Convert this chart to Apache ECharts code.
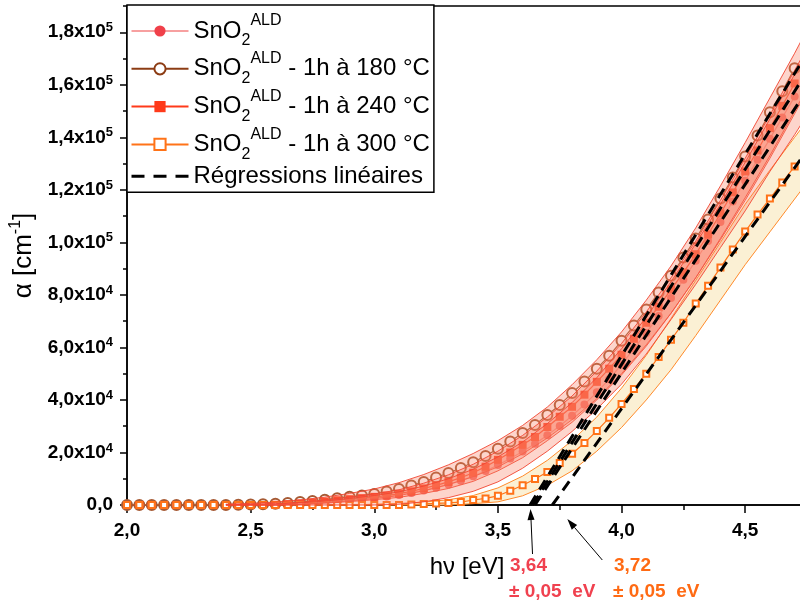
<!DOCTYPE html>
<html><head><meta charset="utf-8">
<script src="https://cdn.jsdelivr.net/npm/echarts@6/dist/echarts.min.js"></script>
<style>html,body{margin:0;padding:0;background:#fff}#c{width:800px;height:605px}</style>
</head><body><div id="c"></div>
<script>
// ---------- data ----------
const energies = [2.00,2.05,2.10,2.15,2.20,2.25,2.30,2.35,2.40,2.45,2.50,2.55,2.60,2.65,2.70,2.75,2.80,2.85,2.90,2.95,
  3.00,3.05,3.10,3.15,3.20,3.25,3.30,3.35,3.40,3.45,3.50,3.55,3.60,3.65,3.70,3.75,3.80,3.85,3.90,3.95,
  4.00,4.05,4.10,4.15,4.20,4.25,4.30,4.35,4.40,4.45,4.50,4.55,4.60,4.65,4.70];
const alphaSnO2 = [0,0,0,0,0,0,0,0,0,0,50,100,150,200,400,700,1000,1400,1800,2200,
  2700,3200,3800,4600,5500,6600,7800,9200,10900,12900,15200,17700,20400,23300,26600,30100,34000,38300,42900,47900,
  53500,59500,65500,72000,78800,85800,93000,100500,107800,115600,123500,131500,139500,147500,155500];
const alpha180 = [0,0,0,0,0,0,0,0,0,100,200,300,500,800,1100,1500,2000,2600,3100,3600,
  4200,5100,6100,7400,8800,10500,12200,14100,16300,18700,21400,24200,27400,30500,34300,38100,42600,47000,51900,56800,
  62500,68300,74400,80900,87300,94200,101500,108700,116700,124700,132700,140700,149500,157500,166300];
const alpha240 = [0,0,0,0,0,0,0,0,0,0,0,0,100,300,600,900,1300,1800,2200,2600,
  3100,3600,4300,5200,6300,7500,8800,10400,12300,14600,17200,20000,22900,25900,29700,33600,37400,42000,46900,51900,
  57200,63300,69400,75500,82000,88500,95500,103000,111000,119000,127000,135000,143500,152000,160500];
const alpha300 = [0,0,0,0,0,0,0,0,0,0,0,0,0,0,0,0,0,0,0,0,
  0,0,0,200,400,600,800,1100,1900,2500,3500,5400,7500,9900,12600,16000,19500,23600,28200,33200,
  38500,44200,50000,56400,62900,69400,76700,83500,90400,97300,104100,110600,116700,122800,128900];

// uncertainty bands (upper / lower edges)
const bandEnergies = [2.4,2.5,2.6,2.7,2.8,2.9,3.0,3.1,3.2,3.3,3.4,3.5,3.6,3.7,3.8,3.9,4.0,4.1,4.2,4.3,4.4,4.5,4.6,4.7,4.8];
const band180Upper = [300,600,1100,1900,3000,4400,6100,8500,11600,15300,19600,24500,30300,37300,45800,55300,65900,78000,91000,105500,121500,138000,155000,172000,190000];
const band180Lower = [0,0,0,300,900,1600,2400,3600,5400,7800,10800,14500,19500,25500,32500,40500,50000,61000,73000,86500,101000,116000,132000,149000,166000];
const band240Upper = [200,300,500,1000,1900,3000,4200,5800,8300,11500,15500,20500,26500,33500,41500,51000,61500,73500,86500,100500,116000,132000,148500,165500,182500];
const band240Lower = [0,0,0,200,700,1300,2000,2900,4400,6300,9000,13000,18000,24500,31500,40000,49500,60500,73000,86500,101500,117000,133000,150000,167000];
const bandSnO2Upper = [100,200,400,800,1500,2500,3600,5000,7200,10000,13600,18300,24000,31000,39000,48500,59500,71500,85000,99500,114500,130500,147000,164000,181000];
const bandSnO2Lower = [0,0,0,0,0,0,0,300,1200,2800,5200,8800,14000,20500,28000,36500,46000,57500,70600,84000,98000,112000,127000,141000,156000];
const band300Upper = [0,0,0,0,0,0,300,600,1100,2000,3600,6500,11000,17000,24500,33500,44500,57000,71000,85500,100000,114500,127500,140000,152500];
const band300Lower = [0,0,0,0,0,0,0,0,0,0,500,1200,3500,7500,13000,20500,29500,40000,51500,64500,78000,91500,104000,116500,129000];

// linear regressions (tangents): [x, alpha] end points
const regSnO2 = [[3.65, 0], [4.75, 158000]];
const reg180 = [[3.63, 0], [4.75, 172000]];
const reg240 = [[3.64, 0], [4.75, 165000]];
const reg300 = [[3.72, 0], [4.75, 135000]];

const gapRed = 3.64, gapOrange = 3.72, gapError = 0.05;

const xMajorTicks = [2.0, 2.5, 3.0, 3.5, 4.0, 4.5];
const xMinorTicks = [2.25, 2.75, 3.25, 3.75, 4.25, 4.75];
const yMajorTicks = [0, 20000, 40000, 60000, 80000, 100000, 120000, 140000, 160000, 180000];
const yMinorTicks = [10000, 30000, 50000, 70000, 90000, 110000, 130000, 150000, 170000, 190000];

const names = ['SnO2ALD', 'SnO2ALD - 1h à 180 °C', 'SnO2ALD - 1h à 240 °C', 'SnO2ALD - 1h à 300 °C', 'Régressions linéaires'];

// ---------- chart ----------
const FONT = '"Liberation Sans", Arial, sans-serif';
const chart = echarts.init(document.getElementById('c'), null, {renderer: 'canvas'});

function pairs(xs, ys) { return xs.map((x, i) => [x, ys[i]]); }

function bandSeries(upper, lower, fill, stroke, z) {
  return {
    type: 'custom', z: z, silent: true, xAxisIndex: 0, yAxisIndex: 0,
    data: [[bandEnergies[0], 0]],
    renderItem: function (params, api) {
      const up = bandEnergies.map((x, i) => api.coord([x, upper[i]]));
      const lo = bandEnergies.map((x, i) => api.coord([x, lower[i]]));
      return {type: 'group', children: [
        {type: 'polygon', shape: {points: up.concat(lo.slice().reverse())}, style: {fill: fill}},
        {type: 'polyline', shape: {points: up}, style: {stroke: stroke, lineWidth: 1, fill: 'none'}},
        {type: 'polyline', shape: {points: lo}, style: {stroke: stroke, lineWidth: 1, fill: 'none'}}
      ]};
    }
  };
}

function regSeries(pts) {
  return {
    name: names[4], type: 'line', z: 5, data: pts, symbol: 'none',
    lineStyle: {color: '#000', width: 3, type: [11, 7]}, itemStyle: {color: '#000'}
  };
}

function fmtY(v) {
  if (v === 0) return '{m|0,0}';
  const e = Math.floor(Math.log10(v) + 1e-9);
  const m = (v / Math.pow(10, e)).toFixed(1).replace('.', ',');
  return '{m|' + m + 'x10}{e|' + e + '}';
}

const redFill = 'rgba(248,125,95,0.32)';
const redEdge = 'rgba(242,70,50,0.9)';

const option = {
  animation: false,
  textStyle: {fontFamily: FONT},
  grid: {left: 127, right: -7, top: 6, bottom: 100, show: true, borderColor: '#000', borderWidth: 1.5,
         backgroundColor: 'transparent', outerBoundsMode: 'none', containLabel: false},
  xAxis: [{
    type: 'value', min: 2.0, max: 4.75, interval: 0.5,
    name: 'hν [eV]', nameLocation: 'middle', nameGap: 50,
    nameTextStyle: {fontSize: 24, color: '#000', fontFamily: FONT},
    axisLine: {show: true, lineStyle: {color: '#000', width: 1.5}},
    axisTick: {show: true, length: 8, lineStyle: {color: '#000', width: 1.5}, customValues: xMajorTicks},
    axisLabel: {color: '#000', fontSize: 19, fontWeight: 'bold', fontFamily: FONT, margin: 16,
      customValues: xMajorTicks,
      formatter: v => v.toFixed(1).replace('.', ',')},
    splitLine: {show: false}
  }, {
    type: 'value', min: 2.0, max: 4.75, position: 'bottom', gridIndex: 0,
    axisLine: {show: false}, axisLabel: {show: false}, splitLine: {show: false},
    axisTick: {show: true, length: 5, lineStyle: {color: '#000', width: 1.5}, customValues: xMinorTicks}
  }],
  yAxis: [{
    type: 'value', min: 0, max: 190000, interval: 20000,
    name: '{n|α [cm}{s|-1}{n|]}', nameLocation: 'middle', nameGap: 78, nameRotate: 90,
    nameTextStyle: {color: '#000', fontFamily: FONT, rich: {
      n: {fontSize: 26, lineHeight: 32, fontFamily: FONT, color: '#000'},
      s: {fontSize: 16, lineHeight: 20, verticalAlign: 'top', fontFamily: FONT, color: '#000'}}},
    axisLine: {show: true, lineStyle: {color: '#000', width: 1.5}},
    axisTick: {show: true, length: 7, lineStyle: {color: '#000', width: 1.5}, customValues: yMajorTicks},
    axisLabel: {color: '#000', margin: 14, customValues: yMajorTicks, formatter: fmtY,
      rich: {
        m: {fontSize: 19, fontWeight: 'bold', lineHeight: 22, fontFamily: FONT, color: '#000'},
        e: {fontSize: 13, fontWeight: 'bold', lineHeight: 14, verticalAlign: 'top', fontFamily: FONT, color: '#000'}
      }},
    splitLine: {show: false}
  }, {
    type: 'value', min: 0, max: 190000, position: 'left', gridIndex: 0,
    axisLine: {show: false}, axisLabel: {show: false}, splitLine: {show: false},
    axisTick: {show: true, length: 4, lineStyle: {color: '#000', width: 1.5}, customValues: yMinorTicks}
  }],
  legend: {
    data: [
      {name: names[0], itemStyle: {color: '#f0404a'}},
      {name: names[1], itemStyle: {color: '#8c3c14'}, lineStyle: {color: '#8c3c14'}},
      names[2], names[3],
      {name: names[4], itemStyle: {color: 'rgba(0,0,0,0)', borderWidth: 0},
       lineStyle: {color: '#000', width: 3, type: [13, 9]}}],
    orient: 'vertical', left: 127, top: 5, padding: [8, 4, 4, 3], itemGap: 1.8,
    itemWidth: 57, itemHeight: 14, selectedMode: false,
    backgroundColor: '#fff', borderColor: '#000', borderWidth: 1.5,
    formatter: function (name) {
      if (name.indexOf('SnO2ALD') === 0) {
        const rest = name.slice(7);
        return '{n|SnO}{sub|2}{sup|ALD}' + (rest ? '{n|' + rest + '}' : '');
      }
      return '{n|' + name + '}';
    },
    textStyle: {color: '#000', fontSize: 24, fontFamily: FONT, rich: {
      n: {fontSize: 24, lineHeight: 36, fontFamily: FONT, color: '#000'},
      sub: {fontSize: 16, lineHeight: 16, verticalAlign: 'bottom', fontFamily: FONT, color: '#000'},
      sup: {fontSize: 16, lineHeight: 26, verticalAlign: 'top', fontFamily: FONT, color: '#000'}
    }}
  },
  series: [
    bandSeries(band300Upper, band300Lower, 'rgba(251,239,210,0.95)', '#ff8a2a', 1),
    {name: names[0], type: 'line', z: 2, data: pairs(energies, alphaSnO2), symbol: 'circle', symbolSize: 8,
      itemStyle: {color: '#f56a6a'}, lineStyle: {color: '#f7a0a0', width: 1.2}},
    {name: names[1], type: 'line', z: 2, data: pairs(energies, alpha180), symbol: 'emptyCircle', symbolSize: 10,
      itemStyle: {color: '#a65a34', borderWidth: 1.6}, lineStyle: {color: '#a65a34', width: 1.2}},
    {name: names[2], type: 'line', z: 2, data: pairs(energies, alpha240), symbol: 'rect', symbolSize: 8,
      itemStyle: {color: '#ff3a1a'}, lineStyle: {color: '#ff3a1a', width: 1.2}},
    {name: names[3], type: 'line', z: 2, data: pairs(energies, alpha300), symbol: 'emptyRect', symbolSize: 6,
      itemStyle: {color: '#ff7318', borderWidth: 1.4}, lineStyle: {color: '#ff7318', width: 1.2}},
    bandSeries(band180Upper, band180Lower, redFill, redEdge, 3),
    bandSeries(band240Upper, band240Lower, redFill, redEdge, 3),
    bandSeries(bandSnO2Upper, bandSnO2Lower, redFill, redEdge, 3),
    regSeries(regSnO2), regSeries(reg180), regSeries(reg240), regSeries(reg300)
  ]
};
chart.setOption(option);

// ---------- annotations (arrows + band-gap values) ----------
function arrow(tail, tip) {
  const dx = tip[0] - tail[0], dy = tip[1] - tail[1];
  const L = Math.sqrt(dx * dx + dy * dy), ux = dx / L, uy = dy / L;
  const hl = 11, hw = 3.5;
  const bx = tip[0] - ux * hl, by = tip[1] - uy * hl;
  return [
    {type: 'line', shape: {x1: tail[0], y1: tail[1], x2: bx, y2: by}, style: {stroke: '#000', lineWidth: 1}, z: 10},
    {type: 'polygon', shape: {points: [tip, [bx - uy * hw, by + ux * hw], [bx + uy * hw, by - ux * hw]]},
      style: {fill: '#000'}, z: 10}
  ];
}
const pRed = chart.convertToPixel({xAxisIndex: 0, yAxisIndex: 0}, [gapRed, 0]);
const pOr = chart.convertToPixel({xAxisIndex: 0, yAxisIndex: 0}, [gapOrange, 0]);
const fmt2 = v => v.toFixed(2).replace('.', ',');
const txt = (s, x, y, color) => ({type: 'text', x: x, y: y, z: 10,
  style: {text: s, fill: color, font: 'bold 19px ' + FONT, textVerticalAlign: 'middle', textAlign: 'left'}});
const red = '#f0414f', orange = '#ff6a13';
chart.setOption({graphic: [].concat(
  arrow([pRed[0], pRed[1] + 49], [pRed[0] - 2, pRed[1] + 4]),
  arrow([pOr[0] + 50, pOr[1] + 55], [pOr[0] + 15, pOr[1] + 14]),
  [txt(fmt2(gapRed), 510, 566, red), txt('± ' + fmt2(gapError) + '  eV', 509, 592, red),
   txt(fmt2(gapOrange), 614, 566, orange), txt('± ' + fmt2(gapError) + '  eV', 613, 592, orange)]
)});
</script></body></html>
